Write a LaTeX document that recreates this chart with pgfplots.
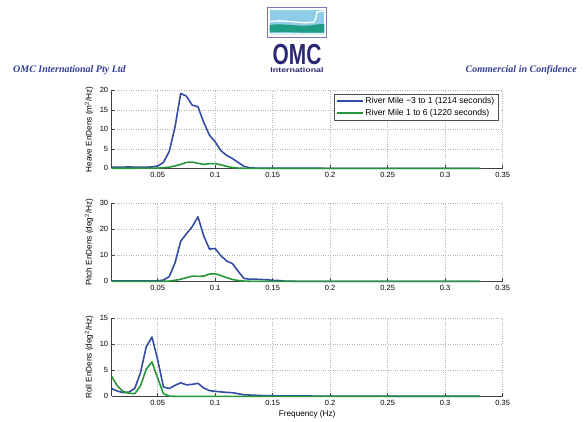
\documentclass[border=0pt]{standalone}
\usepackage{fontspec}
\setmainfont{Liberation Sans}
\newfontfamily\headfont{Liberation Serif}
\usepackage{pgfplots}
\pgfplotsset{compat=1.18}

\definecolor{mblue}{RGB}{52,76,163}
\definecolor{mgreen}{RGB}{38,150,56}
\definecolor{omcnavy}{RGB}{42,40,116}
\definecolor{omctext}{RGB}{50,60,150}
\definecolor{omcsky}{RGB}{142,205,230}
\definecolor{omcteal}{RGB}{31,156,132}
\definecolor{omcframe}{RGB}{125,112,180}

\pgfplotsset{
  omc/.style={
    scale only axis, width=391pt, height=78pt,
    xmin=0.01, xmax=0.35, ymin=0,
    axis lines*=left, axis line style={-, black!75, line width=0.5pt},
    xtick={0.05,0.1,0.15,0.2,0.25,0.3,0.35},
    tick align=inside, major tick length=3pt,
    tick style={black!75, line width=0.5pt},
    grid=major, grid style={dotted, gray!60, line width=0.5pt},
    tick label style={font=\fontsize{7.5}{8}\selectfont},
    label style={font=\fontsize{8.2}{9}\selectfont},
    /pgf/number format/assume math mode=true,
    xticklabel style={/pgf/number format/fixed},
    scaled x ticks=false,
    clip=false,
    every axis plot/.append style={line width=1.6pt, line join=round},
    ylabel style={at={(axis description cs:-0.058,0.5)}, anchor=center},
  }
}

\begin{document}
\begin{tikzpicture}
\path[use as bounding box] (0,0) rectangle (587pt,-421pt);

% header
\node[anchor=base west, inner sep=0pt, text=omctext] at (13pt,-72pt)
  {\headfont\fontsize{10}{11}\selectfont\bfseries\itshape OMC International Pty Ltd};
\node[anchor=base east, inner sep=0pt, text=omctext] at (577pt,-72pt)
  {\headfont\fontsize{10}{11}\selectfont\bfseries\itshape Commercial in Confidence};

% logo
\fill[white] (267pt,-7.3pt) rectangle (326.7pt,-37.3pt);
\fill[omcsky] (269.5pt,-9.5pt) rectangle (324.3pt,-35pt);
\fill[omcteal] (269.5pt,-25pt) .. controls (285pt,-22.5pt) and (300pt,-28pt) .. (316pt,-24.5pt)
  -- (324.3pt,-24pt) -- (324.3pt,-32.5pt) .. controls (300pt,-33.5pt) and (285pt,-31pt) .. (269.5pt,-32.5pt) -- cycle;
\draw[white, line width=1.3pt] (269.5pt,-21.5pt) .. controls (285pt,-19pt) and (300pt,-24.5pt) .. (314pt,-22pt)
  .. controls (316pt,-18pt) .. (317pt,-12pt) -- (324pt,-11pt);
\fill[white!70!omcsky] (269.5pt,-33pt) rectangle (324.3pt,-35pt);
\draw[omcframe, line width=1pt] (267pt,-7.3pt) rectangle (326.7pt,-37.3pt);
\node[anchor=base, inner sep=0pt, text=omcnavy, xscale=0.72] at (297pt,-64.8pt)
  {\fontsize{29}{29}\selectfont\bfseries OMC};
\node[anchor=base, inner sep=0pt, text=omcnavy, xscale=1.3] at (297pt,-72.8pt)
  {\fontsize{6.8}{7}\selectfont\bfseries International};

% heave
\begin{axis}[omc, at={(111.7pt,-168.3pt)}, anchor=south west,
  ymax=20, ytick={0,5,10,15,20},
  ylabel={Heave EnDens (m\textsuperscript{2}/Hz)},
  legend style={at={(0.988,0.958)}, anchor=north east, draw=black!70,
    font=\fontsize{8.6}{9.5}\selectfont, inner sep=1.5pt,
    cells={anchor=west}},
  legend image code/.code={\draw[line width=1.6pt] (0pt,0pt) -- (26pt,0pt);},
]
\addplot[mblue] coordinates {(0.01,0.3)(0.015,0.3)(0.02,0.3)(0.025,0.35)(0.03,0.3)(0.035,0.3)(0.04,0.3)(0.045,0.35)(0.05,0.6)(0.055,1.5)(0.06,4.3)(0.065,10.5)(0.07,19.2)(0.075,18.5)(0.08,16.2)(0.085,15.8)(0.09,11.8)(0.095,8.5)(0.1,6.8)(0.105,4.5)(0.11,3.3)(0.115,2.5)(0.12,1.5)(0.125,0.5)(0.13,0.15)(0.135,0.05)(0.14,0.02)(0.15,0.01)(0.2,0)(0.25,0)(0.3,0)(0.33,0)};
\addplot[mgreen] coordinates {(0.01,0)(0.05,0.05)(0.055,0.15)(0.06,0.3)(0.065,0.6)(0.07,1.0)(0.075,1.5)(0.08,1.6)(0.085,1.3)(0.09,1.0)(0.095,1.2)(0.1,1.2)(0.105,0.9)(0.11,0.5)(0.115,0.2)(0.12,0.05)(0.125,0)(0.2,0)(0.33,0)};
\legend{River Mile −3 to 1 (1214 seconds), River Mile 1 to 6 (1220 seconds)}
\end{axis}

% pitch
\begin{axis}[omc, at={(111.7pt,-281.3pt)}, anchor=south west,
  ymax=30, ytick={0,10,20,30},
  ylabel={Pitch EnDens (deg\textsuperscript{2}/Hz)},
]
\addplot[mblue] coordinates {(0.01,0.1)(0.02,0.1)(0.03,0.1)(0.04,0.1)(0.05,0.15)(0.055,0.5)(0.06,1.8)(0.065,7)(0.07,15.4)(0.075,18.3)(0.08,21)(0.085,24.8)(0.09,17.5)(0.095,12.4)(0.1,12.6)(0.105,9.8)(0.11,7.8)(0.115,6.8)(0.12,3.8)(0.125,1.1)(0.13,0.8)(0.135,0.8)(0.14,0.7)(0.145,0.6)(0.15,0.4)(0.155,0.3)(0.16,0.1)(0.165,0.05)(0.17,0)(0.25,0)(0.33,0)};
\addplot[mgreen] coordinates {(0.01,0)(0.055,0)(0.06,0.1)(0.065,0.4)(0.07,0.8)(0.075,1.4)(0.08,2.0)(0.085,1.9)(0.09,2.0)(0.095,2.8)(0.1,2.9)(0.105,2.2)(0.11,1.4)(0.115,0.7)(0.12,0.3)(0.125,0.1)(0.13,0)(0.2,0)(0.33,0)};
\end{axis}

% roll
\begin{axis}[omc, at={(111.7pt,-396.3pt)}, anchor=south west,
  ymax=15, ytick={0,5,10,15},
  ylabel={Roll EnDens (deg\textsuperscript{2}/Hz)},
  xlabel={Frequency (Hz)},
  xlabel style={at={(axis description cs:0.5,0)}, anchor=center, yshift=-17.7pt},
]
\addplot[mblue] coordinates {(0.01,1.5)(0.015,1.0)(0.02,0.7)(0.025,0.8)(0.03,1.5)(0.035,4.5)(0.04,9.5)(0.045,11.4)(0.05,7.0)(0.055,1.8)(0.06,1.5)(0.065,2.1)(0.07,2.6)(0.075,2.2)(0.08,2.3)(0.085,2.5)(0.09,1.6)(0.095,1.1)(0.1,0.95)(0.105,0.85)(0.11,0.75)(0.115,0.7)(0.12,0.5)(0.125,0.3)(0.13,0.25)(0.135,0.2)(0.14,0.15)(0.15,0.1)(0.16,0.08)(0.2,0.03)(0.25,0.02)(0.33,0.01)};
\addplot[mgreen] coordinates {(0.01,3.8)(0.015,2.0)(0.02,0.9)(0.025,0.6)(0.03,0.5)(0.035,2.0)(0.04,5.2)(0.045,6.6)(0.05,3.5)(0.055,0.5)(0.06,0.05)(0.065,0)(0.2,0)(0.33,0)};
\end{axis}
\end{tikzpicture}
\end{document}
